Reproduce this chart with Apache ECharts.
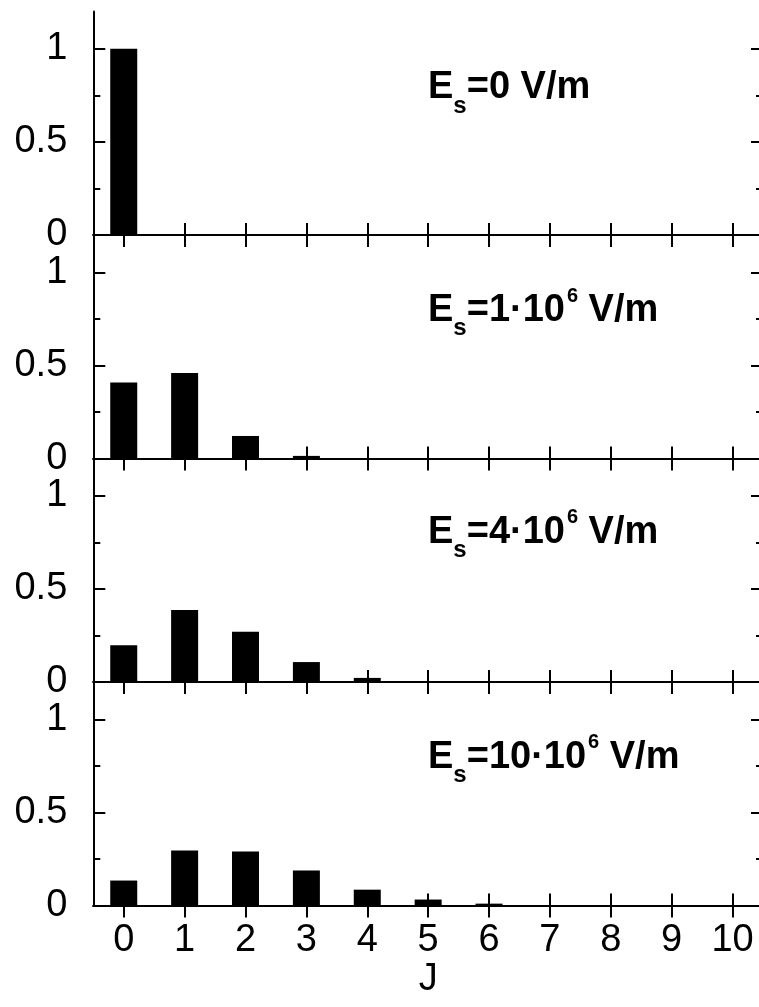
<!DOCTYPE html>
<html>
<head>
<meta charset="utf-8">
<script src="https://cdn.jsdelivr.net/npm/echarts@6/dist/echarts.min.js"></script>
<style>
html,body{margin:0;padding:0;background:#fff;}
#chart{width:759px;height:1007px;}
</style>
</head>
<body>
<div id="chart"></div>
<script>
// ---- data ----
var categories = ['0','1','2','3','4','5','6','7','8','9','10'];
var panel0 = [1.0, 0, 0, 0, 0, 0, 0, 0, 0, 0, 0];
var panel1 = [0.408, 0.459, 0.121, 0.014, 0, 0, 0, 0, 0, 0, 0];
var panel2 = [0.197, 0.386, 0.270, 0.107, 0.022, 0, 0, 0, 0, 0, 0];
var panel3 = [0.134, 0.295, 0.290, 0.188, 0.085, 0.032, 0.010, 0, 0, 0, 0];
var yMajorTicks = [0, 0.5, 1];
var yMinorTicks = [0.25, 0.75];
var panelLabels = [
  '{b|E}{s|s}{b|=0 V/m}',
  '{b|E}{s|s}{b|=1\u00b710}{p|6}{b| V/m}',
  '{b|E}{s|s}{b|=4\u00b710}{p|6}{b| V/m}',
  '{b|E}{s|s}{b|=10\u00b710}{p|6}{b| V/m}'
];
var xAxisName = 'J';

// ---- layout ----
var panels = [panel0, panel1, panel2, panel3];
var gridTops = [11.5, 235, 458.5, 682];
var gridHeight = 223.5;
var gridLeft = 93.3;
var gridWidth = 669.7;
var labelCapTops = [72.5, 295, 516.7, 741.7];
var FONT = "'Liberation Sans', Arial, Helvetica, sans-serif";
var line = {color: '#000', width: 2};

var grids = [], xAxes = [], yAxes = [], series = [], titles = [];
panels.forEach(function (vals, i) {
  var last = (i === panels.length - 1);
  grids.push({left: gridLeft, top: gridTops[i], width: gridWidth, height: gridHeight,
              containLabel: false, outerBoundsMode: 'none'});
  // bottom x axis
  xAxes.push({
    gridIndex: i, type: 'category', data: categories, position: 'bottom', boundaryGap: true,
    axisLine: {show: true, lineStyle: line},
    axisTick: {show: true, inside: true, length: 12, alignWithLabel: true, lineStyle: line},
    axisLabel: {show: last, interval: 0, margin: 16, color: '#000', fontSize: 38, fontFamily: FONT},
    splitLine: {show: false},
    name: last ? xAxisName : '', nameLocation: 'middle', nameGap: 52,
    nameTextStyle: {color: '#000', fontSize: 38, fontFamily: FONT}
  });
  // top x axis
  xAxes.push({
    gridIndex: i, type: 'category', data: categories, position: 'top', boundaryGap: true,
    axisLine: {show: true, lineStyle: line},
    axisTick: {show: true, inside: true, length: 12, alignWithLabel: true, lineStyle: line},
    axisLabel: {show: false}, splitLine: {show: false}
  });
  ['left', 'right'].forEach(function (pos) {
    yAxes.push({
      gridIndex: i, type: 'value', min: 0, max: 1.2, position: pos,
      axisLine: {show: true, lineStyle: line},
      axisTick: {show: true, inside: true, length: 12, customValues: yMajorTicks, lineStyle: line},
      axisLabel: {show: pos === 'left', customValues: yMajorTicks, margin: 26, color: '#000', fontSize: 38, fontFamily: FONT},
      splitLine: {show: false}
    });
    yAxes.push({
      gridIndex: i, type: 'value', min: 0, max: 1.2, position: pos,
      axisLine: {show: false},
      axisTick: {show: true, inside: true, length: 7, customValues: yMinorTicks, lineStyle: line},
      axisLabel: {show: false},
      splitLine: {show: false}
    });
  });
  series.push({
    type: 'bar', xAxisIndex: 2 * i, yAxisIndex: 4 * i, data: vals,
    barWidth: 27, itemStyle: {color: '#000'}, silent: true, animation: false
  });
  titles.push({
    text: panelLabels[i], left: 428, top: labelCapTops[i] - 9.6, padding: 0,
    textStyle: {
      rich: {
        b: {fontSize: 38, fontWeight: 'bold', fontFamily: FONT, color: '#000', verticalAlign: 'top', padding: [6, 0, 0, 0]},
        s: {fontSize: 24, fontWeight: 'bold', fontFamily: FONT, color: '#000', verticalAlign: 'top', padding: [31, 0, 0, 0]},
        p: {fontSize: 20, fontWeight: 'bold', fontFamily: FONT, color: '#000', verticalAlign: 'top', padding: [0.6, 0, 0, 2]}
      }
    }
  });
});

var chart = echarts.init(document.getElementById('chart'), null, {renderer: 'canvas'});
chart.setOption({
  animation: false,
  backgroundColor: '#fff',
  title: titles,
  grid: grids,
  xAxis: xAxes,
  yAxis: yAxes,
  series: series
});
</script>
</body>
</html>
